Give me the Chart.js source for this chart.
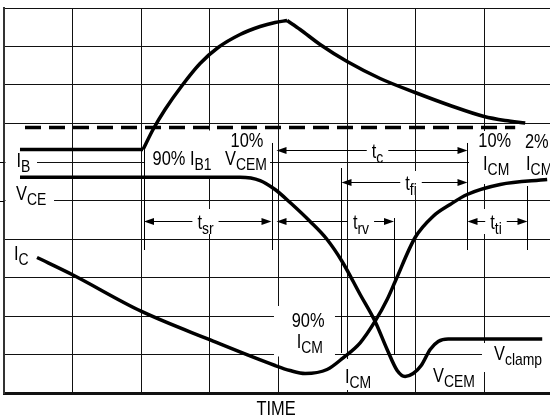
<!DOCTYPE html>
<html>
<head>
<meta charset="utf-8">
<script src="https://cdn.jsdelivr.net/npm/chart.js@4.4.1/dist/chart.umd.min.js"></script>
<style>
  html, body { margin: 0; padding: 0; background: #fff; overflow: hidden; }
  #wrap { width: 556px; height: 420px; }
</style>
</head>
<body>
<div id="wrap"><canvas id="chart" width="556" height="420"></canvas></div>
<script>
"use strict";

// x = time in grid divisions, y = grid divisions counted from the bottom
const ibFlatX = [0.233, 2.026];
const ibFlatY = [6.325, 6.325];
const ibRiseX = [2.026, 2.172, 2.347, 2.595, 2.857, 3.120, 3.440, 3.732, 3.950, 4.125];
const ibRiseY = [6.325, 6.844, 7.364, 7.987, 8.558, 8.974, 9.312, 9.519, 9.623, 9.675];
const ibFallX = [4.125, 4.315, 4.606, 5.000, 5.481, 5.991, 6.501, 6.997, 7.303, 7.595];
const ibFallY = [9.675, 9.442, 9.052, 8.610, 8.169, 7.805, 7.468, 7.182, 7.078, 7.013];
const vceX = [0.233, 3.440, 3.732, 3.950, 4.169, 4.461, 4.708, 4.927, 5.190, 5.408,
              5.583, 5.729, 5.845, 5.962, 6.079, 6.210, 6.327, 6.472, 7.843];
const vceY = [5.605, 5.605, 5.519, 5.286, 4.948, 4.455, 3.987, 3.416, 2.558, 1.857,
              1.130, 0.584, 0.429, 0.506, 0.714, 1.130, 1.338, 1.403, 1.403];
const icX = [0.481, 0.991, 1.997, 2.988, 3.950, 4.169, 4.388, 4.708, 4.942, 5.190,
             5.408, 5.583, 5.700, 5.991, 6.254, 6.501, 6.749, 7.230, 7.915];
const icY = [3.519, 3.078, 2.125, 1.390, 0.714, 0.584, 0.506, 0.610, 0.914, 1.304,
             1.865, 2.429, 2.896, 4.039, 4.592, 4.896, 5.156, 5.416, 5.545];
const refX = [0.306, 7.449];   // 90% I_B1 dashed reference
const refY = [6.896, 6.896];
const xTicks = [0, 1, 2, 3, 4, 5, 6, 7, 8];
const yTicks = [0, 1, 2, 3, 4, 5, 6, 7, 8, 9, 10];
const axisTitle = "TIME";

const MAIN_FONT = "20px 'Liberation Sans', Arial, sans-serif";
const SUB_FONT = "17px 'Liberation Sans', Arial, sans-serif";
const SQUEEZE = 0.82;   // the figure uses a condensed face

function pts(xs, ys) {
  return xs.map((v, i) => ({ x: v, y: ys[i] }));
}

function curve(xs, ys, extra) {
  return Object.assign({
    data: pts(xs, ys),
    showLine: true,
    borderColor: "#000",
    borderWidth: 3.5,
    pointRadius: 0,
    tension: 0.4,
    cubicInterpolationMode: "monotone",
    borderCapStyle: "butt"
  }, extra || {});
}

// white patches where the labels break the grid [x1, x2, yTop, yBottom]
const blanks = [
  [0.022, 0.481, 6.247, 5.714],
  [0.022, 0.729, 5.455, 4.805],
  [2.055, 3.876, 6.818, 5.636],
  [6.776, 8.000, 6.805, 5.429],
  [2.710, 3.293, 4.779, 4.130],
  [5.027, 5.392, 4.779, 4.130],
  [6.980, 7.344, 4.779, 4.130],
  [5.231, 5.669, 6.623, 6.026],
  [5.669, 6.208, 5.766, 5.143],
  [3.934, 4.823, 2.260, 0.948],
  [4.940, 5.363, 0.883, 0.078],
  [6.178, 6.951, 0.909, 0.065],
  [6.965, 8.000, 1.299, 0.545]
];

// vertical timing markers [x, yTop, yBottom]
const markers = [
  [2.040, 6.312, 3.714],
  [3.898, 6.494, 3.714],
  [4.918, 5.844, 1.039],
  [5.683, 4.545, 0.987],
  [6.754, 6.494, 3.714],
  [7.628, 5.377, 3.714]
];

// dimension arrows [xLeft, xRight, y, labelCenter, subscript]
const arrows = [
  [2.040, 3.898, 4.468, 2.936, "sr"],
  [3.971, 5.683, 4.468, 5.202, "rv"],
  [6.754, 7.628, 4.468, 7.169, "ti"],
  [3.971, 6.754, 6.312, 5.443, "c"],
  [4.918, 6.754, 5.468, 5.931, "fi"]
];

// text [x, baseline y, main, subscript, align]
const labels = [
  [0.182, 5.870, "I", "B", "left"],
  [0.175, 5.013, "V", "CE", "left"],
  [0.146, 3.455, "I", "C", "left"],
  [2.164, 5.922, "90% I", "B1", "left"],
  [3.541, 6.390, "10%", "", "center"],
  [3.221, 5.922, "V", "CEM", "left"],
  [6.911, 6.390, "10%", "", "left"],
  [6.980, 5.792, "I", "CM", "left"],
  [7.592, 6.364, "2%", "", "left"],
  [7.607, 5.792, "I", "CM", "left"],
  [4.192, 1.722, "90%", "", "left"],
  [4.265, 1.156, "I", "CM", "left"],
  [4.969, 0.247, "I", "CM", "left"],
  [6.251, 0.294, "V", "CEM", "left"],
  [7.140, 0.857, "V", "clamp", "left"]
];

function squeezed(ctx, str, px, py) {
  ctx.save();
  ctx.translate(px, py);
  ctx.scale(SQUEEZE, 1);
  ctx.fillText(str, 0, 0);
  ctx.restore();
}

function drawText(ctx, px, py, main, sub, align) {
  ctx.font = MAIN_FONT;
  const w1 = ctx.measureText(main).width * SQUEEZE;
  ctx.font = SUB_FONT;
  const w2 = sub ? ctx.measureText(sub).width * SQUEEZE : 0;
  const left = align === "center" ? px - (w1 + w2) / 2 : px;
  ctx.font = MAIN_FONT;
  squeezed(ctx, main, left, py);
  if (sub) {
    ctx.font = SUB_FONT;
    squeezed(ctx, sub, left + w1, py + 5);
  }
  return w1 + w2;
}

function head(ctx, tipX, tipY, dir) {
  ctx.beginPath();
  ctx.moveTo(tipX, tipY);
  ctx.lineTo(tipX - dir * 10, tipY - 3.5);
  ctx.lineTo(tipX - dir * 10, tipY + 3.5);
  ctx.closePath();
  ctx.fill();
}

const annotate = {
  id: "annotate",
  beforeDatasetsDraw(chart) {
    const { ctx, scales: { x, y } } = chart;
    ctx.save();
    ctx.fillStyle = "#fff";
    blanks.forEach(([x1, x2, y1, y2]) => {
      const l = x.getPixelForValue(x1), r = x.getPixelForValue(x2);
      const t = y.getPixelForValue(y1), b = y.getPixelForValue(y2);
      ctx.fillRect(l, t, r - l, b - t);
    });
    ctx.restore();
  },
  afterDatasetsDraw(chart) {
    const { ctx, chartArea, scales: { x, y } } = chart;
    ctx.save();
    ctx.strokeStyle = "#000";
    ctx.fillStyle = "#000";
    ctx.lineWidth = 1;

    // little reference ticks left of the frame
    [6, 5].forEach(v => {
      const py = Math.round(y.getPixelForValue(v)) + 0.5;
      ctx.beginPath();
      ctx.moveTo(chartArea.left - 4, py);
      ctx.lineTo(chartArea.left, py);
      ctx.stroke();
    });

    markers.forEach(([mx, y1, y2]) => {
      const px = Math.round(x.getPixelForValue(mx)) + 0.5;
      ctx.beginPath();
      ctx.moveTo(px, y.getPixelForValue(y1));
      ctx.lineTo(px, y.getPixelForValue(y2));
      ctx.stroke();
    });

    ctx.textAlign = "left";
    ctx.textBaseline = "alphabetic";

    arrows.forEach(([x1, x2, ay, cx, sub]) => {
      const l = x.getPixelForValue(x1), r = x.getPixelForValue(x2);
      const py = Math.round(y.getPixelForValue(ay)) + 0.5;
      const c = x.getPixelForValue(cx);
      const w = drawText(ctx, c, py + 7, "t", sub, "center");
      ctx.beginPath();
      ctx.moveTo(l + 2, py);
      ctx.lineTo(c - w / 2 - 5, py);
      ctx.moveTo(c + w / 2 + 5, py);
      ctx.lineTo(r - 2, py);
      ctx.stroke();
      head(ctx, l, py, -1);
      head(ctx, r, py, 1);
    });

    labels.forEach(([lx, ly, main, sub, align]) => {
      drawText(ctx, x.getPixelForValue(lx), y.getPixelForValue(ly), main, sub, align);
    });

    drawText(ctx, x.getPixelForValue(3.964), chartArea.bottom + 22, axisTitle, "", "center");
    ctx.restore();
  }
};

const canvas = document.getElementById("chart");
const chart = new Chart(canvas.getContext("2d"), {
  type: "scatter",
  data: {
    datasets: [
      curve(refX, refY, { borderDash: [16, 8], tension: 0 }),
      curve(ibFlatX, ibFlatY, { tension: 0 }),
      curve(ibRiseX, ibRiseY),
      curve(ibFallX, ibFallY),
      curve(vceX, vceY),
      curve(icX, icY)
    ]
  },
  options: {
    responsive: false,
    animation: false,
    layout: { padding: { left: 4, top: 8, right: 3, bottom: 27 } },
    plugins: { legend: { display: false }, tooltip: { enabled: false } },
    scales: {
      x: {
        type: "linear",
        min: xTicks[0],
        max: xTicks[xTicks.length - 1],
        afterBuildTicks: s => { s.ticks = xTicks.map(v => ({ value: v })); },
        ticks: { display: false },
        grid: { color: "#111", lineWidth: 1, drawTicks: false },
        border: { color: "#111", width: 3 }
      },
      y: {
        type: "linear",
        min: yTicks[0],
        max: yTicks[yTicks.length - 1],
        afterBuildTicks: s => { s.ticks = yTicks.map(v => ({ value: v })); },
        ticks: { display: false },
        grid: { color: "#111", lineWidth: 1, drawTicks: false },
        border: { color: "#333", width: 2 }
      }
    }
  },
  plugins: [annotate]
});
</script>
</body>
</html>
